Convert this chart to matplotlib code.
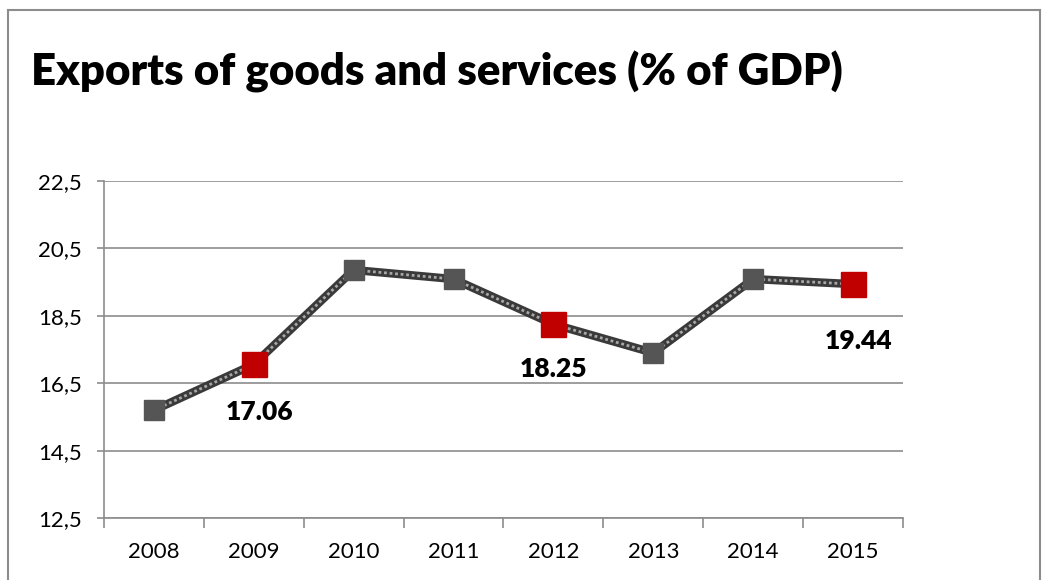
import matplotlib
matplotlib.use("Agg")
import matplotlib.pyplot as plt
from matplotlib.patches import Rectangle

years = ["2008", "2009", "2010", "2011", "2012", "2013", "2014", "2015"]
exports = [15.70, 17.06, 19.86, 19.59, 18.25, 17.40, 19.59, 19.44]
highlighted = ["2009", "2012", "2015"]
y_ticks = [12.5, 14.5, 16.5, 18.5, 20.5, 22.5]

plt.rcParams["font.family"] = ["Lato", "DejaVu Sans"]

fig = plt.figure(figsize=(10.47, 5.8), dpi=100)

# thin grey frame around the chart
fig.patches.append(Rectangle((8 / 1047, -0.1), 1032 / 1047, 1.1 - 10 / 580,
                             transform=fig.transFigure, fill=False,
                             edgecolor="#8c8c8c", linewidth=1.5))

fig.text(31 / 1047, 1 - 72 / 580, "Exports of goods and services (% of GDP)",
         fontsize=31.5, fontweight="heavy", va="center", ha="left")

ax = fig.add_axes([104 / 1047, 1 - 518 / 580, 799 / 1047, 337 / 580])
x = list(range(len(years)))

ax.plot(x, exports, color="#3a3a3a", linewidth=6, solid_joinstyle="miter", zorder=3)
ax.plot(x, exports, color="#a8a8a8", linewidth=2, linestyle=(0, (1, 1)), zorder=4)

for xi, year, val in zip(x, years, exports):
    if year in highlighted:
        ax.plot(xi, val, marker="s", markersize=18, color="#c00000",
                markeredgecolor="#c00000", zorder=5)
    else:
        ax.plot(xi, val, marker="s", markersize=14, color="#555555",
                markeredgecolor="#555555", zorder=5)

label_offsets = {"2009": (4, -34), "2012": (0, -32), "2015": (4, -41)}
for xi, year, val in zip(x, years, exports):
    if year in highlighted:
        dx, dy = label_offsets[year]
        ax.annotate(f"{val:.2f}", (xi, val), xytext=(dx, dy), textcoords="offset points",
                    ha="center", va="center", fontsize=19, fontweight="heavy")

ax.set_xlim(-0.5, len(years) - 0.5)
ax.set_ylim(12.5, 22.5)
ax.set_yticks(y_ticks)
ax.set_yticklabels([f"{v:.1f}".replace(".", ",") for v in y_ticks])
ax.set_xticks(x)
ax.set_xticklabels(years)
ax.set_xticks([i - 0.5 for i in range(len(years) + 1)], minor=True)
ax.tick_params(axis="x", which="major", length=0, pad=17, labelsize=16)
ax.tick_params(axis="x", which="minor", length=7, width=1.2, color="#8c8c8c", direction="out")
ax.tick_params(axis="y", length=5, width=1.2, color="#8c8c8c", pad=11, labelsize=16)

ax.grid(axis="y", color="#8c8c8c", linewidth=1.2)
ax.set_axisbelow(True)
for side in ["top", "right"]:
    ax.spines[side].set_visible(False)
for side in ["left", "bottom"]:
    ax.spines[side].set_color("#8c8c8c")
    ax.spines[side].set_linewidth(1.2)

fig.savefig("out.png", dpi=100)
